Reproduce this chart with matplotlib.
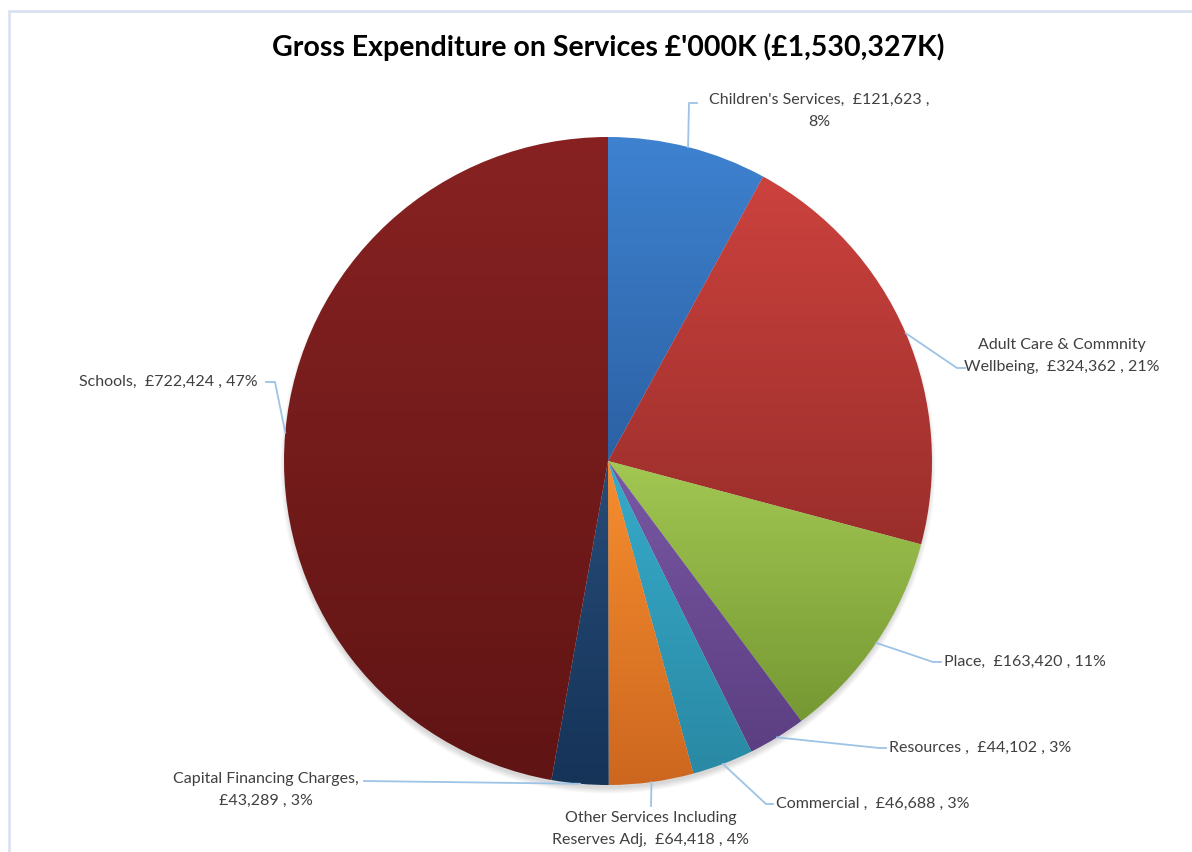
import numpy as np
import matplotlib.pyplot as plt
from matplotlib.colors import to_rgb
from matplotlib.patches import Rectangle, Circle

W, H = 1192, 852

# data
names = ["Children's Services", "Adult Care & Commnity\nWellbeing", "Place", "Resources ",
         "Commercial ", "Other Services Including\nReserves Adj", "Capital Financing Charges",
         "Schools"]
values = [121623, 324362, 163420, 44102, 46688, 64418, 43289, 722424]
label_fmt = ["{n},  {v} ,\n{p}", "{n},  {v} , {p}", "{n},  {v} , {p}", "{n},  {v} , {p}",
             "{n},  {v} , {p}", "{n},  {v} , {p}", "{n},\n{v} , {p}", "{n},  {v} , {p}"]
top_colors = ["#3E82D0", "#CC423E", "#A2C752", "#7858A3", "#36ABCA", "#F78E2F", "#264C78", "#882222"]
bot_colors = ["#2C61A4", "#9A2E2B", "#769833", "#5C3E82", "#2A89A4", "#CD671F", "#163358", "#601414"]
title = "Gross Expenditure on Services £'000K (£1,530,327K)"

# layout (pixel coords, y down): text position, alignment, elbow points of leader
text_pos = [(819, 111), (1062, 356), (944, 662), (889, 748), (776, 804), (651, 829), (266, 790), (258, 382)]
text_ha = ["center", "center", "left", "left", "left", "center", "center", "right"]
elbows = [[(689, 103), (697, 103)], [(957, 368), (965, 368)], [(933, 662), (941, 662)],
          [(879, 748), (886, 748)], [(766, 804), (773, 804)], [(651, 806)],
          [(364, 781)], [(275, 382), (266, 382)]]

cx, cy, r = 608, 461, 324

fig = plt.figure(figsize=(W / 100, H / 100), dpi=100)
ax = fig.add_axes([0, 0, 1, 1])

# soft shadow below the pie
for i in range(8):
    ax.add_patch(Circle((cx, H - cy - 5), r - 2 + i * 0.8, color="black",
                        alpha=0.02, lw=0, zorder=0))

wedges, _ = ax.pie(values, startangle=90, counterclock=False, radius=r,
                   center=(cx, H - cy), frame=True,
                   wedgeprops=dict(linewidth=0, facecolor="none"))

for w, c0, c1 in zip(wedges, top_colors, bot_colors):
    ext = w.get_path().get_extents()
    t = np.linspace(0, 1, 256)[:, None]
    grad = np.array(to_rgb(c1))[None, :] * (1 - t) + np.array(to_rgb(c0))[None, :] * t
    im = ax.imshow(grad[:, None, :], extent=[ext.x0, ext.x1, ext.y0, ext.y1],
                   origin="lower", aspect="auto", interpolation="bilinear", zorder=1)
    im.set_clip_path(w)

total = sum(values)
for i, w in enumerate(wedges):
    mid = np.deg2rad((w.theta1 + w.theta2) / 2)
    ex, ey = cx + r * np.cos(mid), (H - cy) + r * np.sin(mid)
    xs = [ex] + [p[0] for p in elbows[i]]
    ys = [ey] + [H - p[1] for p in elbows[i]]
    ax.plot(xs, ys, color="#9DC3E6", lw=1.3, zorder=3)
    txt = label_fmt[i].format(n=names[i], v="£{:,}".format(values[i]),
                              p="{}%".format(round(values[i] / total * 100)))
    ax.text(text_pos[i][0], H - text_pos[i][1], txt, ha=text_ha[i], va="center",
            fontsize=11.5, family="Lato", color="#404040", linespacing=1.75, zorder=4)

ax.text(608, H - 47, title, ha="center", va="center", fontsize=20.5,
        family="Lato", fontweight="bold", color="black")

ax.add_patch(Rectangle((9, -10), W, H - 1, fill=False, ec="#D6E0F0", lw=1.8, zorder=5))

ax.set_xlim(0, W)
ax.set_ylim(0, H)
ax.set_aspect("equal")
ax.axis("off")

fig.savefig("out.png", dpi=100, facecolor="white")
